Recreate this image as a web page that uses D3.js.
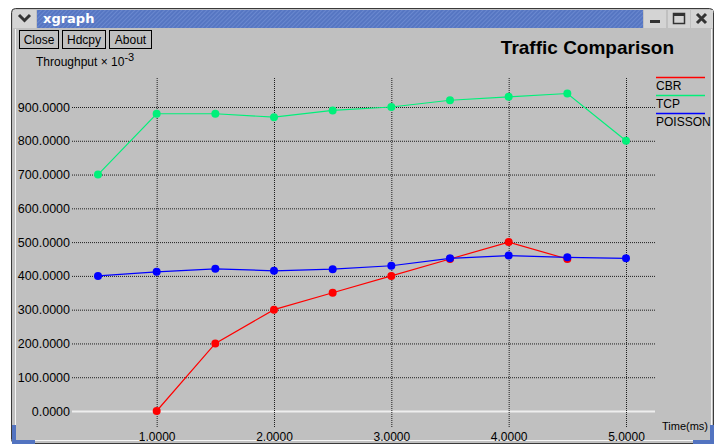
<!DOCTYPE html>
<html>
<head>
<meta charset="utf-8">
<script src="https://cdn.jsdelivr.net/npm/d3@7"></script>
<style>
  body { margin: 0; background: #fff; }
  svg { display: block; font-family: "Liberation Sans", Arial, sans-serif; }
</style>
</head>
<body>
<script>
// data
const xTicks = [1, 2, 3, 4, 5];
const yTicks = [0, 100, 200, 300, 400, 500, 600, 700, 800, 900];
const seriesNames = ["CBR", "TCP", "POISSON"];
const seriesColors = ["#ff0000", "#00f07a", "#0000ff"];
const cbrX = [1.0, 1.5, 2.0, 2.5, 3.0, 3.5, 4.0, 4.5];
const cbrY = [0, 200, 300, 350, 400, 450, 500, 450];
const tcpX = [0.5, 1.0, 1.5, 2.0, 2.5, 3.0, 3.5, 4.0, 4.5, 5.0];
const tcpY = [700, 880, 880, 870, 890, 900, 920, 930, 940, 800];
const poissonX = [0.5, 1.0, 1.5, 2.0, 2.5, 3.0, 3.5, 4.0, 4.5, 5.0];
const poissonY = [400, 412, 421, 415, 420, 430, 452, 460, 455, 452];

const width = 721, height = 448;

const svg = d3.select('body').append('svg')
  .attr('width', width)
  .attr('height', height);

// ---- window chrome ----
const defs = svg.append('defs');
const pat = defs.append('pattern')
  .attr('id', 'stripes')
  .attr('width', 3).attr('height', 3)
  .attr('patternUnits', 'userSpaceOnUse')
  .attr('patternTransform', 'rotate(45)');
pat.append('rect').attr('width', 3).attr('height', 3).attr('fill', '#5676c2');
pat.append('rect').attr('width', 1).attr('height', 3).attr('fill', '#6a88cf');

// frame
svg.append('rect')
  .attr('x', 11.5).attr('y', 8.5).attr('width', 702).attr('height', 435)
  .attr('rx', 4)
  .attr('fill', '#c0c0c0').attr('stroke', '#3a3a3a');

// title bar
svg.append('rect')
  .attr('x', 37).attr('y', 10).attr('width', 606).attr('height', 18)
  .attr('fill', 'url(#stripes)');
svg.append('text')
  .attr('x', 43).attr('y', 23)
  .attr('fill', '#fff')
  .style('font-family', '"DejaVu Sans", sans-serif')
  .style('font-weight', 'bold')
  .style('font-size', '13px')
  .text('xgraph');

// menu chevron
svg.append('rect').attr('x', 13).attr('y', 10).attr('width', 23).attr('height', 18).attr('fill', '#d4d4d4');
svg.append('path').attr('d', 'M19,15 L24.5,20.5 L30,15')
  .attr('fill', 'none').attr('stroke', '#333').attr('stroke-width', 3);

// right-hand buttons
const btnX = [644, 668, 691];
svg.selectAll('.wbtn').data(btnX).enter().append('rect')
  .attr('class', 'wbtn')
  .attr('x', function(d){ return d; }).attr('y', 10)
  .attr('width', 22).attr('height', 18)
  .attr('fill', '#d4d4d4');
svg.append('rect').attr('x', 650).attr('y', 20).attr('width', 10).attr('height', 3).attr('fill', '#333');
svg.append('rect').attr('x', 673.5).attr('y', 13.5).attr('width', 11).attr('height', 10)
  .attr('fill', 'none').attr('stroke', '#333').attr('stroke-width', 1.5);
svg.append('rect').attr('x', 673).attr('y', 13).attr('width', 12).attr('height', 3).attr('fill', '#333');
svg.append('path').attr('d', 'M697,14 L706,23 M706,14 L697,23')
  .attr('stroke', '#333').attr('stroke-width', 3);

// inner edges
svg.append('line').attr('x1', 15.5).attr('x2', 15.5).attr('y1', 29).attr('y2', 440).attr('stroke', '#f4f4f4');
svg.append('line').attr('x1', 711.5).attr('x2', 711.5).attr('y1', 29).attr('y2', 440).attr('stroke', '#f4f4f4');
svg.append('line').attr('x1', 15).attr('x2', 712).attr('y1', 440.5).attr('y2', 440.5).attr('stroke', '#f4f4f4');
// resize corners
svg.append('path').attr('d', 'M12,425 L16,425 L16,440 L35,440 L35,444 L12,444 Z').attr('fill', '#5273c0');
svg.append('path').attr('d', 'M714,425 L710,425 L710,440 L693,440 L693,444 L714,444 Z').attr('fill', '#5273c0');

// xgraph buttons
const buttons = [
  { label: 'Close', x: 19, w: 39 },
  { label: 'Hdcpy', x: 62, w: 43 },
  { label: 'About', x: 109, w: 42 }
];
const btn = svg.selectAll('.btn').data(buttons).enter().append('g')
  .attr('class', 'btn')
  .attr('transform', function(d){ return `translate(${d.x},30)`; });
btn.append('rect')
  .attr('x', 0.5).attr('y', 0.5)
  .attr('width', function(d){ return d.w; }).attr('height', 18)
  .attr('fill', '#c0c0c0').attr('stroke', '#000');
btn.append('text')
  .attr('x', function(d){ return d.w / 2 + 0.5; }).attr('y', 14)
  .attr('text-anchor', 'middle')
  .style('font-size', '12px')
  .text(function(d){ return d.label; });

// ---- chart ----
const x = d3.scaleLinear().domain([0.5, 5]).range([98, 626]);
const y = d3.scaleLinear().domain([0, 900]).range([411, 107]);

const gridLeft = 72, gridRight = 655, gridTop = 78, gridBottom = 427;

// horizontal grid + y labels
const yAxis = svg.append('g')
  .attr('transform', `translate(${gridLeft},0)`)
  .call(d3.axisLeft(y)
    .tickValues(yTicks)
    .tickSize(-(gridRight - gridLeft))
    .tickPadding(2)
    .tickFormat(d3.format('.4f')));
yAxis.select('.domain').remove();
yAxis.selectAll('.tick line')
  .attr('stroke', function(d){ return d === 0 ? '#eeeeee' : '#000'; })
  .attr('stroke-width', function(d){ return d === 0 ? 2 : 1; })
  .attr('stroke-dasharray', function(d){ return d === 0 ? null : '1,1'; })
  .attr('stroke-opacity', function(d){ return d === 0 ? 1 : 0.85; });
yAxis.selectAll('.tick text')
  .attr('fill', '#000')
  .style('font-size', '12.5px')
  .style('font-family', '"Liberation Sans", Arial, sans-serif');

// vertical grid + x labels
const xAxis = svg.append('g')
  .attr('transform', `translate(0,${gridBottom})`)
  .call(d3.axisBottom(x)
    .tickValues(xTicks)
    .tickSize(-(gridBottom - gridTop))
    .tickPadding(5)
    .tickFormat(d3.format('.4f')));
xAxis.select('.domain').remove();
xAxis.selectAll('.tick line')
  .attr('stroke', '#000')
  .attr('stroke-dasharray', '1,1')
  .attr('stroke-opacity', 0.85);
xAxis.selectAll('.tick text')
  .attr('fill', '#000')
  .style('font-size', '12px')
  .style('font-family', '"Liberation Sans", Arial, sans-serif');

// titles
svg.append('text')
  .attr('x', 674).attr('y', 54)
  .attr('text-anchor', 'end')
  .style('font-size', '19px')
  .style('font-weight', 'bold')
  .text('Traffic Comparison');

const yt = svg.append('text')
  .attr('x', 36).attr('y', 66)
  .style('font-size', '12px');
yt.append('tspan').text('Throughput \u00d7 10');
yt.append('tspan').attr('dy', -5).style('font-size', '11px').text('-3');

svg.append('text')
  .attr('x', 662).attr('y', 430)
  .style('font-size', '11px')
  .text('Time(ms)');

// series
const series = [
  { name: 'CBR', xs: cbrX, ys: cbrY },
  { name: 'TCP', xs: tcpX, ys: tcpY },
  { name: 'POISSON', xs: poissonX, ys: poissonY }
].map(function(s, i) {
  s.color = seriesColors[i];
  s.points = s.xs.map(function(v, j){ return [v, s.ys[j]]; });
  return s;
});

const line = d3.line()
  .x(function(d){ return x(d[0]); })
  .y(function(d){ return y(d[1]); });

const drawOrder = [1, 0, 2];
drawOrder.forEach(function(i) {
  const s = series[i];
  svg.append('path')
    .datum(s.points)
    .attr('d', line)
    .attr('fill', 'none')
    .attr('stroke', s.color)
    .attr('stroke-width', 1.2);
  svg.selectAll('.pt-' + i)
    .data(s.points)
    .enter().append('circle')
    .attr('class', 'pt-' + i)
    .attr('cx', function(d){ return x(d[0]); })
    .attr('cy', function(d){ return y(d[1]); })
    .attr('r', 4)
    .attr('fill', s.color);
});

// legend
const legend = svg.selectAll('.legend').data(series).enter().append('g')
  .attr('class', 'legend')
  .attr('transform', function(d, i){ return `translate(656,${77.5 + i * 18})`; });
legend.append('path')
  .attr('d', 'M0,0 H49')
  .attr('fill', 'none')
  .style('stroke', function(d){ return d.color; })
  .style('stroke-width', 1.5);
legend.append('text')
  .attr('x', 0).attr('y', 12)
  .style('font-size', '12px')
  .text(function(d){ return d.name; });
</script>
</body>
</html>
